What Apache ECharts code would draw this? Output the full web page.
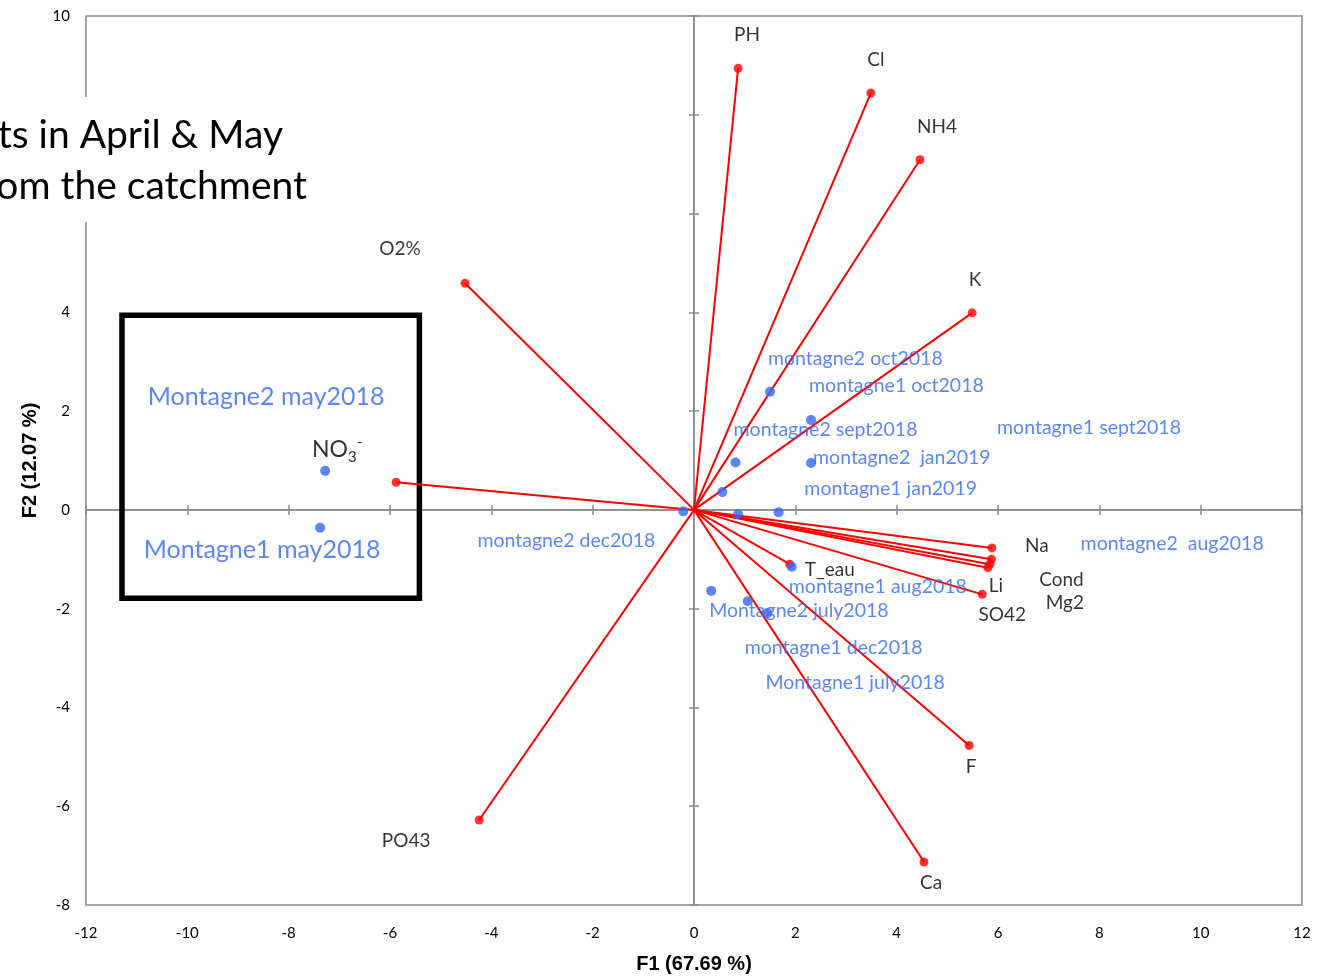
<!DOCTYPE html>
<html><head><meta charset="utf-8">
<script src="https://cdn.jsdelivr.net/npm/echarts@6/dist/echarts.min.js"></script>
<style>html,body{margin:0;padding:0;background:#fff}#c{width:1327px;height:979px}</style>
</head><body><div id="c"></div>
<script>
// ---- data ----
const xTicks = [-12,-10,-8,-6,-4,-2,0,2,4,6,8,10,12];
const yTicks = [-8,-6,-4,-2,0,2,4,6,8,10];

const varNames = ['PH','Cl','NH4','K','O2%','NO3','PO43','Na','Cond','Mg2','Li','SO42','T_eau','F','Ca'];
const varF1 = [0.87,3.49,4.46,5.49,-4.52,-5.88,-4.24,5.88,5.87,5.84,5.80,5.69,1.89,5.43,4.54];
const varF2 = [8.94,8.44,7.09,3.99,4.59,0.56,-6.28,-0.77,-1.00,-1.10,-1.17,-1.71,-1.10,-4.77,-7.13];

const obsNames = ['Montagne2 may2018','Montagne1 may2018','montagne2 oct2018','montagne1 oct2018',
  'montagne2 sept2018','montagne2  jan2019','montagne1 jan2019','montagne2 dec2018',
  'montagne1 sept2018','montagne2  aug2018','montagne1 aug2018','Montagne2 july2018',
  'montagne1 dec2018','Montagne1 july2018'];
const obsF1 = [-7.28,-7.38,1.50,2.31,0.82,2.31,0.56,-0.21,0.87,1.67,1.93,0.34,1.06,1.45];
const obsF2 = [0.79,-0.36,2.39,1.82,0.96,0.95,0.36,-0.03,-0.09,-0.05,-1.15,-1.64,-1.85,-2.09];

const axisTitleX = 'F1 (67.69 %)';
const axisTitleY = 'F2 (12.07 %)';
const noteLines = ['ts in April & May','om the catchment'];

// ---- styles (label placement in px relative to marks) ----
const FONT = 'Lato';
const BLUE = '#3366F4';
const GREY = '#8c8c8c';
const varLabelOffsets = [[9,-33],[5,-33],[17,-33],[3,-33],[-65,-34],[-59,-33],[-73,21],[45,-2],[70,21],[75,39],[8,18],[20,21],[40,6],[2,21],[7,21]];
const obsLabelStyle = [
  {align:'center',offset:[-59,-74],fontSize:25},
  {align:'center',offset:[-58,22],fontSize:25},
  {align:'left',offset:[-2,-33]},
  {align:'left',offset:[-2,-34]},
  {align:'left',offset:[-2,-33]},
  {align:'left',offset:[2,-5]},
  {align:'left',offset:[82,-3]},
  {align:'right',offset:[-28,29]},
  {align:'left',offset:[259,-87]},
  {align:'left',offset:[302,31]},
  {align:'left',offset:[-3,20]},
  {align:'left',offset:[-2,20]},
  {align:'left',offset:[-3,46]},
  {align:'left',offset:[-2,70]}
];
const boxCorners = [[-11.29,3.94],[-5.42,-1.79]];

const chart = echarts.init(document.getElementById('c'), null, {renderer:'canvas'});

const vecLines = varNames.map((n,i)=>({coords:[[0,0],[varF1[i],varF2[i]]]}));
const varPts = varNames.map((n,i)=>{
  const item = {name:n, value:[varF1[i],varF2[i]], label:{offset:varLabelOffsets[i]}};
  if (n==='NO3') {
    item.label.formatter = '{n|NO}{s|3}{p|-}';
  }
  return item;
});
const obsPts = obsNames.map((n,i)=>{
  const s = obsLabelStyle[i];
  const lab = {align:s.align, offset:s.offset};
  if (s.fontSize) lab.fontSize = s.fontSize;
  return {name:n, value:[obsF1[i],obsF2[i]], label:lab};
});

const xMin = xTicks[0], xMax = xTicks[xTicks.length-1], xInt = xTicks[1]-xTicks[0];
const yMin = yTicks[0], yMax = yTicks[yTicks.length-1], yInt = yTicks[1]-yTicks[0];

const centerX = (inside)=>({type:'value',min:xMin,max:xMax,interval:xInt,position:'bottom',
  axisLine:{show:true,onZero:true,lineStyle:{color:GREY,width:1.5}},
  axisTick:{show:true,inside:inside,length:5,lineStyle:{color:GREY,width:1.5}},
  axisLabel:{show:false},splitLine:{show:false}});
const centerY = (inside)=>({type:'value',min:yMin,max:yMax,interval:yInt,position:'left',
  axisLine:{show:true,onZero:true,lineStyle:{color:GREY,width:1.5}},
  axisTick:{show:true,inside:inside,length:5,lineStyle:{color:GREY,width:1.5}},
  axisLabel:{show:false},splitLine:{show:false}});

chart.setOption({
  backgroundColor:'#fff',
  animation:false,
  textStyle:{fontFamily:FONT},
  grid:{left:86,right:25,top:16,bottom:69,show:true,borderColor:GREY,borderWidth:1.5,backgroundColor:'transparent'},
  xAxis:[
    {type:'value',min:xMin,max:xMax,interval:xInt,position:'bottom',
     axisLine:{show:false,onZero:false},axisTick:{show:false},splitLine:{show:false},
     axisLabel:{color:'#000',fontSize:15,fontFamily:FONT,margin:21},
     name:axisTitleX,nameLocation:'middle',nameGap:49,
     nameTextStyle:{color:'#000',fontSize:20,fontWeight:'bold',fontFamily:'Liberation Sans'}},
    centerX(true), centerX(false)
  ],
  yAxis:[
    {type:'value',min:yMin,max:yMax,interval:yInt,position:'left',
     axisLine:{show:false,onZero:false},axisTick:{show:false},splitLine:{show:false},
     axisLabel:{color:'#000',fontSize:15,fontFamily:FONT,margin:16},
     name:axisTitleY,nameLocation:'middle',nameGap:46,nameRotate:90,
     nameTextStyle:{color:'#000',fontSize:20,fontWeight:'bold',fontFamily:'Liberation Sans'}},
    centerY(true), centerY(false)
  ],
  series:[
    {type:'lines',coordinateSystem:'cartesian2d',xAxisIndex:0,yAxisIndex:0,
     data:vecLines,lineStyle:{color:'#ff0000',width:2,opacity:1},z:3,silent:true},
    {type:'scatter',xAxisIndex:0,yAxisIndex:0,data:varPts,symbolSize:9,
     itemStyle:{color:'#ff0000'},z:4,
     label:{show:true,position:'inside',align:'center',verticalAlign:'middle',
       formatter:'{b}',color:'#000',fontSize:19,fontFamily:FONT,
       rich:{n:{fontSize:23,color:'#000',fontFamily:FONT,verticalAlign:'middle',lineHeight:30},
             s:{fontSize:15,color:'#000',fontFamily:FONT,verticalAlign:'bottom',lineHeight:30},
             p:{fontSize:15,color:'#000',fontFamily:FONT,verticalAlign:'top',lineHeight:30}}}},
    {type:'scatter',xAxisIndex:0,yAxisIndex:0,data:obsPts,symbolSize:10,
     itemStyle:{color:BLUE},z:5,
     label:{show:true,position:'inside',verticalAlign:'middle',formatter:'{b}',
       color:BLUE,fontSize:19.5,fontFamily:FONT},
     markArea:{silent:true,
       itemStyle:{color:'rgba(0,0,0,0)',borderColor:'#000',borderWidth:5.5},
       data:[[{coord:boxCorners[0]},{coord:boxCorners[1]}]]}}
  ],
  graphic:[
    {type:'rect',z:100,shape:{x:0,y:97,width:318,height:125},style:{fill:'#fff'}},
    {type:'text',z:101,x:283,y:135,style:{text:noteLines[0],fontSize:39,fontFamily:FONT,fill:'#000',align:'right',verticalAlign:'middle'}},
    {type:'text',z:101,x:307,y:186,style:{text:noteLines[1],fontSize:39,fontFamily:FONT,fill:'#000',align:'right',verticalAlign:'middle'}}
  ]
});
</script></body></html>
